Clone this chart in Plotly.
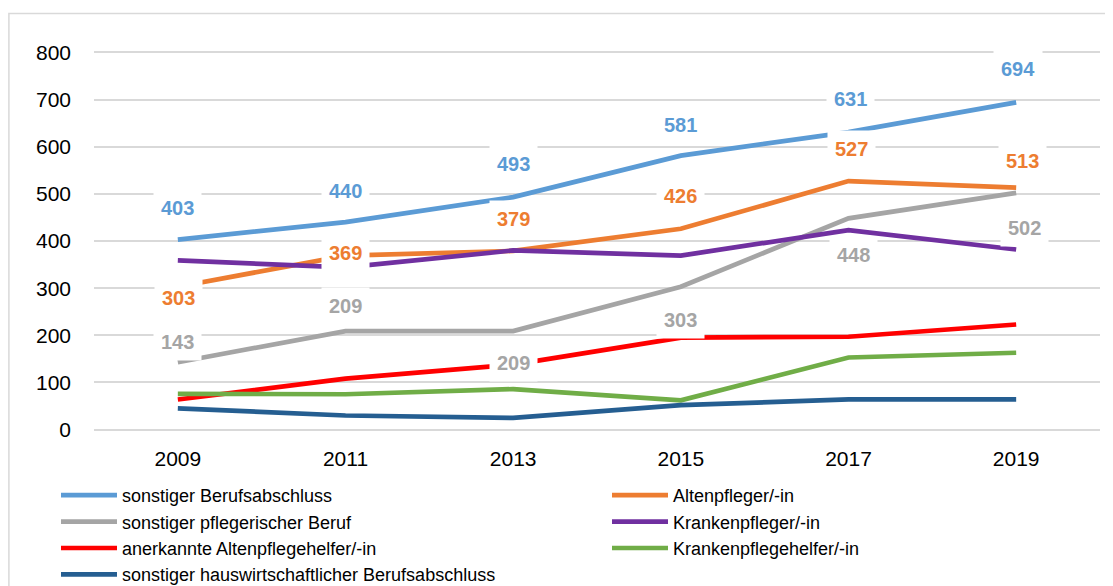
import plotly.graph_objects as go

years = ["2009", "2011", "2013", "2015", "2017", "2019"]

sonstiger_berufsabschluss = [403, 440, 493, 581, 631, 694]
altenpfleger = [303, 369, 379, 426, 527, 513]
sonstiger_pflegerischer = [143, 209, 209, 303, 448, 502]
krankenpfleger = [359, 344, 380, 369, 423, 382]
altenpflegehelfer = [64, 108, 138, 195, 197, 223]
krankenpflegehelfer = [76, 75, 86, 62, 153, 163]
hauswirtschaft = [45, 30, 25, 52, 64, 64]

y_ticks = [0, 100, 200, 300, 400, 500, 600, 700, 800]

series_names = [
    "sonstiger Berufsabschluss",
    "Altenpfleger/-in",
    "sonstiger pflegerischer Beruf",
    "Krankenpfleger/-in",
    "anerkannte Altenpflegehelfer/-in",
    "Krankenpflegehelfer/-in",
    "sonstiger hauswirtschaftlicher Berufsabschluss",
]
series_values = [
    sonstiger_berufsabschluss,
    altenpfleger,
    sonstiger_pflegerischer,
    krankenpfleger,
    altenpflegehelfer,
    krankenpflegehelfer,
    hauswirtschaft,
]
colors = ["#5B9BD5", "#ED7D31", "#A5A5A5", "#7030A0", "#FF0000", "#70AD47", "#255E91"]
legend_ids = ["legend", "legend2", "legend", "legend2", "legend", "legend2", "legend"]

# label offsets in pixels for labelled series
label_shift = {
    0: [32, 31, 33, 31, 33, 33],
    1: [-11, 3, 32, 33, 32, 27],
    2: [20, 25, -32, -33, -37, -35],
}
label_xshift = {
    0: [0, 0, 0, 0, 2, 2],
    1: [1, 0, 0, 0, 3, 6],
    2: [0, 0, 0, 0, 5, 8],
}

FONT = "Liberation Sans, Arial, sans-serif"

fig = go.Figure()
for i, (name, vals, col, lg) in enumerate(zip(series_names, series_values, colors, legend_ids)):
    fig.add_trace(go.Scatter(
        x=years, y=vals, name=name, mode="lines",
        line=dict(color=col, width=4.7),
        legend=lg, hoverinfo="x+y+name",
    ))

for i in (0, 1, 2):
    for j, (yr, v) in enumerate(zip(years, series_values[i])):
        fig.add_annotation(
            x=j, y=v, xref="x", yref="y", text="<b>" + str(v) + "</b>",
            showarrow=False, yshift=label_shift[i][j], xshift=label_xshift[i][j],
            font=dict(family=FONT, size=20, color=colors[i]),
            bgcolor="#FFFFFF", borderpad=7,
        )

fig.update_layout(
    width=1113, height=586,
    paper_bgcolor="white", plot_bgcolor="white",
    margin=dict(l=85.6, r=21, t=42.35, b=162.45, autoexpand=False),
    font=dict(family=FONT, size=21, color="#000000"),
    xaxis=dict(
        type="category", range=[-0.5, 5.5], showgrid=False, zeroline=False,
        showline=False, ticks="", tickfont=dict(size=21), ticklabelstandoff=12,
        automargin=False,
    ),
    yaxis=dict(
        range=[-5, 805], tickvals=y_ticks,
        showgrid=True, gridcolor="#D9D9D9", gridwidth=1.5,
        zeroline=False, showline=False, ticks="", tickfont=dict(size=21),
        ticklabelstandoff=22, automargin=False,
    ),
    legend=dict(
        orientation="v", xref="container", yref="container", x=48 / 1113, y=1 - 469 / 586,
        xanchor="left", yanchor="top", font=dict(size=18), itemwidth=56,
        bgcolor="rgba(0,0,0,0)", tracegroupgap=0,
    ),
    legend2=dict(
        orientation="v", xref="container", yref="container", x=599 / 1113, y=1 - 469 / 586,
        xanchor="left", yanchor="top", font=dict(size=18), itemwidth=56,
        bgcolor="rgba(0,0,0,0)", tracegroupgap=0,
    ),
    shapes=[dict(
        type="rect", xref="paper", yref="paper",
        x0=-0.0846, x1=1.06, y0=-0.6, y1=1.0953,
        line=dict(color="#D9D9D9", width=1.5), fillcolor="rgba(0,0,0,0)", layer="below",
    )],
    showlegend=True,
)

fig.write_html("out.html")
